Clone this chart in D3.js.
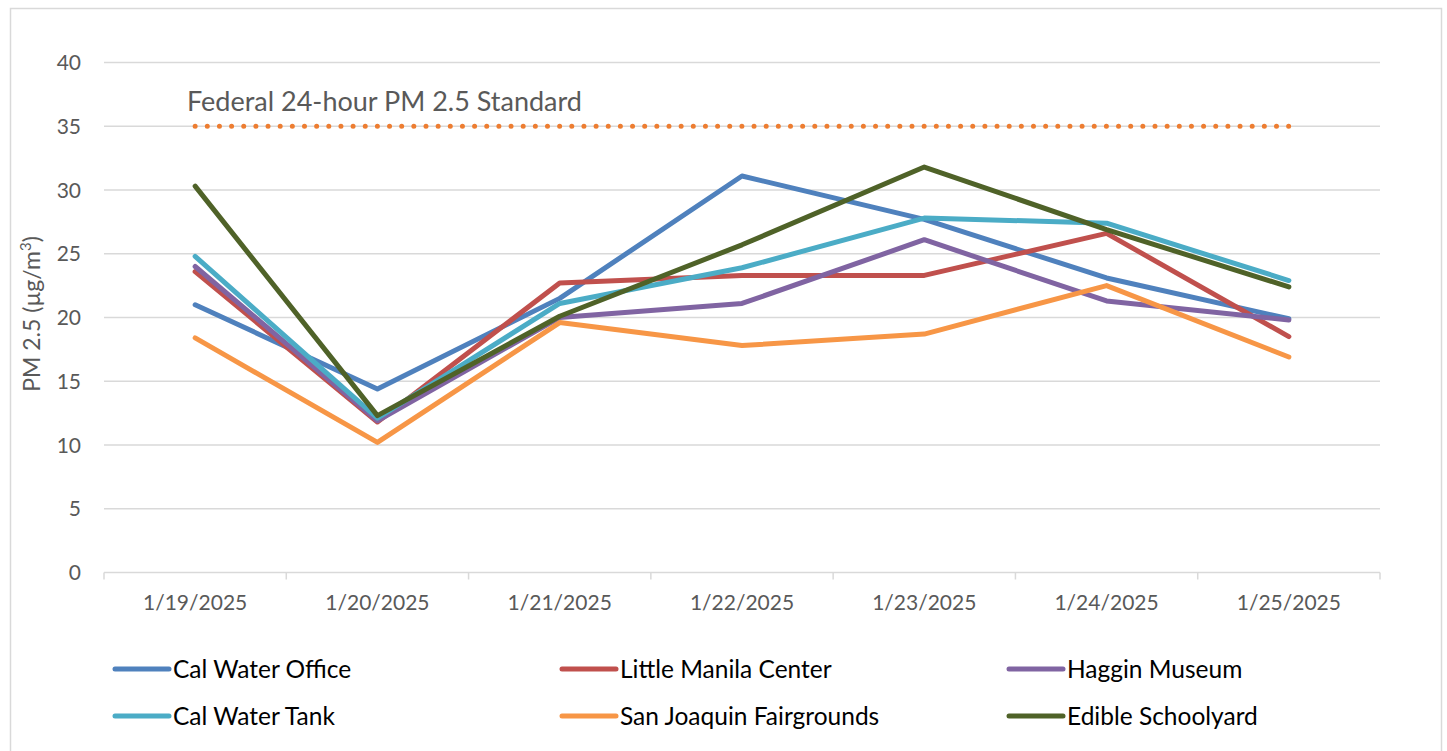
<!DOCTYPE html>
<html>
<head>
<meta charset="utf-8">
<script src="https://cdn.jsdelivr.net/npm/d3@7"></script>
<style>
  body { margin: 0; background: #fff; }
  svg text { font-family: Lato, "Open Sans", sans-serif; }
</style>
</head>
<body>
<svg id="chart" width="1447" height="751"></svg>
<script>
// chart values
const dates = ["1/19/2025", "1/20/2025", "1/21/2025", "1/22/2025", "1/23/2025", "1/24/2025", "1/25/2025"];
const seriesNames = ["Cal Water Office", "Little Manila Center", "Haggin Museum",
    "Cal Water Tank", "San Joaquin Fairgrounds", "Edible Schoolyard"];
const calWaterOffice = [21.0, 14.4, 21.5, 31.1, 27.7, 23.1, 19.9];
const littleManila = [23.6, 11.8, 22.7, 23.3, 23.3, 26.6, 18.5];
const hagginMuseum = [24.0, 11.9, 20.0, 21.1, 26.1, 21.3, 19.8];
const calWaterTank = [24.8, 12.1, 21.1, 23.9, 27.8, 27.4, 22.9];
const fairgrounds = [18.4, 10.2, 19.6, 17.8, 18.7, 22.5, 16.9];
const edibleSchoolyard = [30.3, 12.3, 20.1, 25.7, 31.8, 26.9, 22.4];
const standard = [35, 35, 35, 35, 35, 35, 35];
const yTicks = [0, 5, 10, 15, 20, 25, 30, 35, 40];

const seriesValues = [calWaterOffice, littleManila, hagginMuseum, calWaterTank, fairgrounds, edibleSchoolyard];
const colors = ["#4F81BD", "#C0504D", "#8064A2", "#4BACC6", "#F79646", "#4F6228"];

const svg = d3.select("#chart");

// outer frame
svg.append("rect")
    .attr("x", 10.5).attr("y", 8.5)
    .attr("width", 1431).attr("height", 760)
    .attr("fill", "none").attr("stroke", "#d9d9d9").attr("stroke-width", 1.5);

const plot = {left: 104, right: 1380, top: 62.5, bottom: 572.5};

const x = d3.scaleBand().domain(dates).range([plot.left, plot.right]);
const y = d3.scaleLinear().domain([0, 40]).range([plot.bottom, plot.top]);

// gridlines
svg.append("g").selectAll("line")
    .data(yTicks.filter(t => t > 0))
    .join("line")
    .attr("x1", plot.left).attr("x2", plot.right)
    .attr("y1", d => y(d)).attr("y2", d => y(d))
    .attr("stroke", "#d9d9d9").attr("stroke-width", 1.5);

// y labels
svg.append("g").selectAll("text")
    .data(yTicks)
    .join("text")
    .attr("x", 81).attr("y", d => y(d))
    .attr("dy", "0.36em")
    .attr("text-anchor", "end")
    .attr("font-size", 21)
    .attr("fill", "#595959")
    .text(d => d);

// x axis line + ticks
const xAxis = svg.append("g");
xAxis.append("line")
    .attr("x1", plot.left).attr("x2", plot.right)
    .attr("y1", plot.bottom).attr("y2", plot.bottom)
    .attr("stroke", "#d9d9d9").attr("stroke-width", 1.5);
xAxis.selectAll(".tick")
    .data(dates.map(d => x(d)).concat([plot.right]))
    .join("line")
    .attr("class", "tick")
    .attr("x1", d => d).attr("x2", d => d)
    .attr("y1", plot.bottom).attr("y2", plot.bottom + 7)
    .attr("stroke", "#d9d9d9").attr("stroke-width", 1.5);
xAxis.selectAll("text")
    .data(dates)
    .join("text")
    .attr("x", d => x(d) + x.bandwidth() / 2)
    .attr("y", 610)
    .attr("text-anchor", "middle")
    .attr("font-size", 21)
    .attr("fill", "#595959")
    .text(d => d);

// y axis title
const yTitle = svg.append("text")
    .attr("transform", "translate(40,314) rotate(-90)")
    .attr("text-anchor", "middle")
    .attr("font-size", 23)
    .attr("fill", "#595959");
yTitle.append("tspan").text("PM 2.5 (µg/m");
yTitle.append("tspan").attr("font-size", 15).attr("dy", -9).text("3");
yTitle.append("tspan").attr("dy", 9).text(")");

const line = d3.line()
    .x((d, i) => x(dates[i]) + x.bandwidth() / 2)
    .y(d => y(d));

// federal standard
svg.append("path")
    .attr("d", line(standard))
    .attr("fill", "none")
    .attr("stroke", "#ED7D31")
    .attr("stroke-width", 5)
    .attr("stroke-linecap", "round")
    .attr("stroke-dasharray", "0 12.15");

svg.append("text")
    .attr("x", 187).attr("y", 111)
    .attr("font-size", 27)
    .attr("fill", "#595959")
    .text("Federal 24-hour PM 2.5 Standard");

// series
svg.append("g").selectAll("path")
    .data(seriesValues)
    .join("path")
    .attr("d", d => line(d))
    .attr("fill", "none")
    .attr("stroke", (d, i) => colors[i])
    .attr("stroke-width", 5)
    .attr("stroke-linejoin", "round")
    .attr("stroke-linecap", "round");

// legend
const legendCols = [115, 562, 1009];
const legendRows = [669, 716];
const legend = svg.append("g").selectAll("g")
    .data(seriesNames)
    .join("g")
    .attr("transform", (d, i) => `translate(${legendCols[i % 3]},${legendRows[Math.floor(i / 3)]})`);
legend.append("line")
    .attr("x1", 0).attr("x2", 54)
    .attr("stroke", (d, i) => colors[i])
    .attr("stroke-width", 5)
    .attr("stroke-linecap", "round");
legend.append("text")
    .attr("x", 58)
    .attr("dy", "0.36em")
    .attr("font-size", 24.5)
    .attr("fill", "#000")
    .text(d => d);
</script>
</body>
</html>
